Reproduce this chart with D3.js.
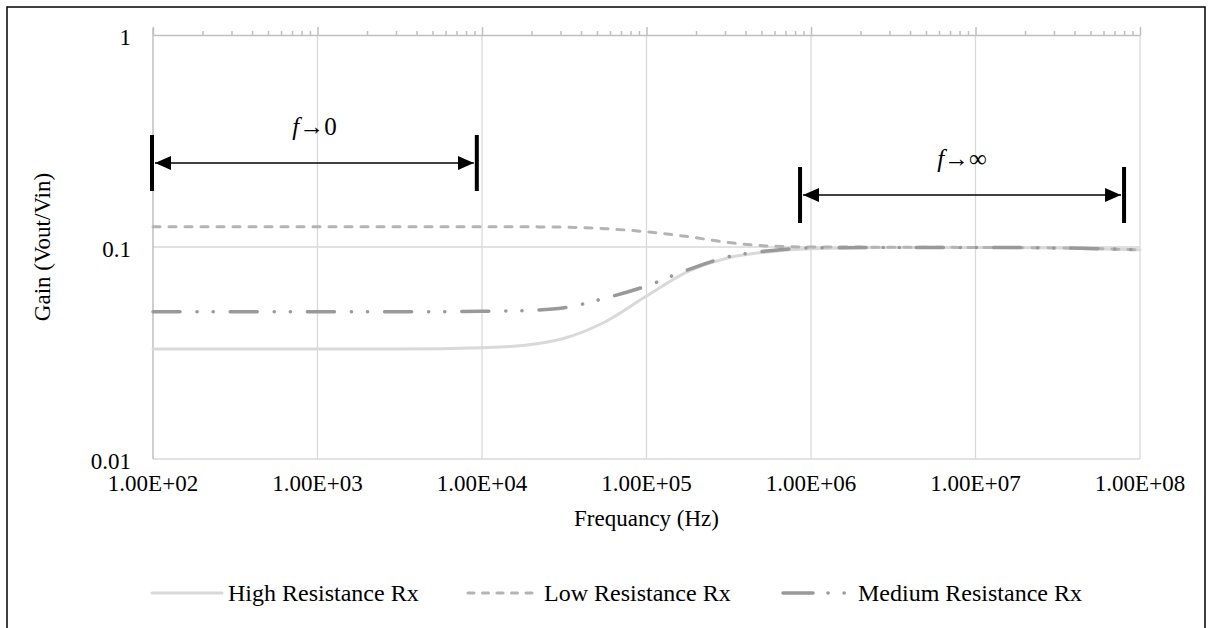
<!DOCTYPE html>
<html>
<head>
<meta charset="utf-8">
<script src="https://cdn.jsdelivr.net/npm/d3@7"></script>
<style>
  body { margin: 0; background: #fff; }
  svg text { font-family: "Liberation Serif", "Times New Roman", Tinos, "DejaVu Serif", serif; fill: #000; }
</style>
</head>
<body>
<svg id="chart" width="1213" height="628"></svg>
<script>
const freqs = [1e2, 3.16e2, 1e3, 3.16e3, 1e4, 1.78e4, 3.16e4, 5.62e4, 1e5, 1.78e5, 3.16e5, 5.62e5, 1e6, 3.16e6, 1e7, 3.16e7, 1e8];
const highRx = [0.033, 0.033, 0.033, 0.033, 0.0335, 0.0343, 0.0371, 0.0444, 0.0587, 0.0765, 0.089, 0.095, 0.098, 0.0995, 0.0995, 0.099, 0.097];
const lowRx = [0.1245, 0.1245, 0.1245, 0.1245, 0.1245, 0.1245, 0.124, 0.122, 0.118, 0.112, 0.105, 0.101, 0.1, 0.0998, 0.0995, 0.099, 0.097];
const mediumRx = [0.0495, 0.0495, 0.0495, 0.0495, 0.0497, 0.0501, 0.0517, 0.0574, 0.0655, 0.078, 0.09, 0.096, 0.099, 0.0995, 0.0995, 0.099, 0.097];

const xTicks = [1e2, 1e3, 1e4, 1e5, 1e6, 1e7, 1e8];
const xTickLabels = ["1.00E+02", "1.00E+03", "1.00E+04", "1.00E+05", "1.00E+06", "1.00E+07", "1.00E+08"];
const yTicks = [0.01, 0.1, 1];
const yTickLabels = ["0.01", "0.1", "1"];

const seriesNames = ["High Resistance Rx", "Low Resistance Rx", "Medium Resistance Rx"];

// annotation ranges (frequency) for the two brackets
const lowBand = [1e2, 9.3e3];
const highBand = [8.7e5, 8e7];

const svg = d3.select("#chart");

var x = d3.scaleLog().domain([1e2, 1e8]).range([153, 1140]);
var y = d3.scaleLog().domain([0.01, 1]).range([459, 35]);

// outer frame
svg.append("path")
  .attr("d", "M7,628 L7,7 L1205,7 L1205,628")
  .attr("fill", "none")
  .attr("stroke", "#000")
  .attr("stroke-width", 1.5);

// gridlines
svg.append("g")
  .selectAll("line")
  .data(xTicks.slice(1))
  .join("line")
  .attr("x1", d => x(d)).attr("x2", d => x(d))
  .attr("y1", y(1)).attr("y2", y(0.01))
  .attr("stroke", "#d9d9d9")
  .attr("stroke-width", 1.3);

svg.append("g")
  .selectAll("line")
  .data([0.01, 0.1])
  .join("line")
  .attr("x1", x(1e2)).attr("x2", x(1e8))
  .attr("y1", d => y(d)).attr("y2", d => y(d))
  .attr("stroke", "#d9d9d9")
  .attr("stroke-width", 1.3);

// left axis line
svg.append("line")
  .attr("x1", x(1e2)).attr("x2", x(1e2))
  .attr("y1", y(1) - 7).attr("y2", y(0.01))
  .attr("stroke", "#bfbfbf")
  .attr("stroke-width", 1.5);

// horizontal axis crosses at the top (gain = 1), with log minor ticks
var topAxis = d3.axisTop(x)
  .tickValues(x.ticks())
  .tickFormat("")
  .tickSizeInner(4)
  .tickSizeOuter(0);

svg.append("g")
  .attr("transform", "translate(0," + y(1) + ")")
  .call(topAxis)
  .call(g => g.select(".domain").attr("stroke", "#bfbfbf").attr("stroke-width", 1.5))
  .call(g => g.selectAll(".tick line")
    .attr("stroke", "#bfbfbf")
    .attr("stroke-width", 1.5)
    .attr("y2", d => xTicks.includes(d) ? -8 : -4));

// tick labels
svg.append("g")
  .selectAll("text")
  .data(xTicks)
  .join("text")
  .attr("x", d => x(d))
  .attr("y", 483)
  .attr("text-anchor", "middle")
  .attr("dominant-baseline", "central")
  .style("font-size", "23px")
  .text((d, i) => xTickLabels[i]);

svg.append("g")
  .selectAll("text")
  .data(yTicks)
  .join("text")
  .attr("x", 131)
  .attr("y", d => y(d) + 2)
  .attr("text-anchor", "end")
  .attr("dominant-baseline", "central")
  .style("font-size", "23px")
  .text((d, i) => yTickLabels[i]);

// axis titles
svg.append("text")
  .attr("transform", "translate(42," + y(0.1) + ") rotate(-90)")
  .attr("text-anchor", "middle")
  .attr("dominant-baseline", "central")
  .style("font-size", "23px")
  .text("Gain (Vout/Vin)");

svg.append("text")
  .attr("x", (x(1e2) + x(1e8)) / 2)
  .attr("y", 518)
  .attr("text-anchor", "middle")
  .attr("dominant-baseline", "central")
  .style("font-size", "23px")
  .text("Frequancy (Hz)");

// series
const styles = [
  { values: highRx, color: "#d9d9d9", width: 3, dash: null },
  { values: lowRx, color: "#b4b4b4", width: 3, dash: "7,9" },
  { values: mediumRx, color: "#999999", width: 3.5, dash: "27,17,0.1,16,0.1,17" }
];

var line = d3.line()
  .x(d => x(d.f))
  .y(d => y(d.v))
  .curve(d3.curveMonotoneX);

styles.forEach(s => {
  svg.append("path")
    .datum(freqs.map((f, i) => ({ f: f, v: s.values[i] })))
    .attr("d", line)
    .attr("fill", "none")
    .attr("stroke", s.color)
    .attr("stroke-width", s.width)
    .attr("stroke-linecap", "round")
    .attr("stroke-dasharray", s.dash);
});

// arrow markers
const defs = svg.append("defs");
defs.append("marker")
  .attr("id", "head")
  .attr("viewBox", "0 0 16 14")
  .attr("refX", 16).attr("refY", 7)
  .attr("markerWidth", 16).attr("markerHeight", 14)
  .attr("markerUnits", "userSpaceOnUse")
  .attr("orient", "auto-start-reverse")
  .append("path")
  .attr("d", "M0,0 L16,7 L0,14 Z")
  .attr("fill", "#000");

function bracket(band, yMid, label) {
  var g = svg.append("g");
  var x0 = x(band[0]) - 1, x1 = x(band[1]);
  [x0, x1].forEach(xx => {
    g.append("line")
      .attr("x1", xx).attr("x2", xx)
      .attr("y1", yMid - 28).attr("y2", yMid + 28)
      .attr("stroke", "#000")
      .attr("stroke-width", 4);
  });
  g.append("line")
    .attr("x1", x0 + 3).attr("x2", x1 - 3)
    .attr("y1", yMid).attr("y2", yMid)
    .attr("stroke", "#000")
    .attr("stroke-width", 1.5)
    .attr("marker-start", "url(#head)")
    .attr("marker-end", "url(#head)");
  var t = g.append("text")
    .attr("x", (x0 + x1) / 2)
    .attr("y", yMid - 28)
    .attr("text-anchor", "middle")
    .style("font-size", "25px");
  t.append("tspan").style("font-style", "italic").text("f");
  t.append("tspan").text(label);
}

bracket(lowBand, 163, "\u21920");
bracket(highBand, 195, "\u2192\u221e");

// legend
const legendX = [152, 468, 783];
const legendY = 593;
styles.forEach((s, i) => {
  var g = svg.append("g").attr("transform", "translate(" + legendX[i] + "," + legendY + ")");
  g.append("line")
    .attr("x1", 0).attr("x2", 70)
    .attr("stroke", s.color)
    .attr("stroke-width", s.width)
    .attr("stroke-linecap", "round")
    .attr("stroke-dasharray", i === 1 ? "6,8.5" : (i === 2 ? "30,15,0.1,16,0.1,30" : null));
  g.append("text")
    .attr("x", i === 2 ? 75 : 76)
    .attr("y", 0)
    .attr("dominant-baseline", "central")
    .style("font-size", "24px")
    .text(seriesNames[i]);
});
</script>
</body>
</html>
